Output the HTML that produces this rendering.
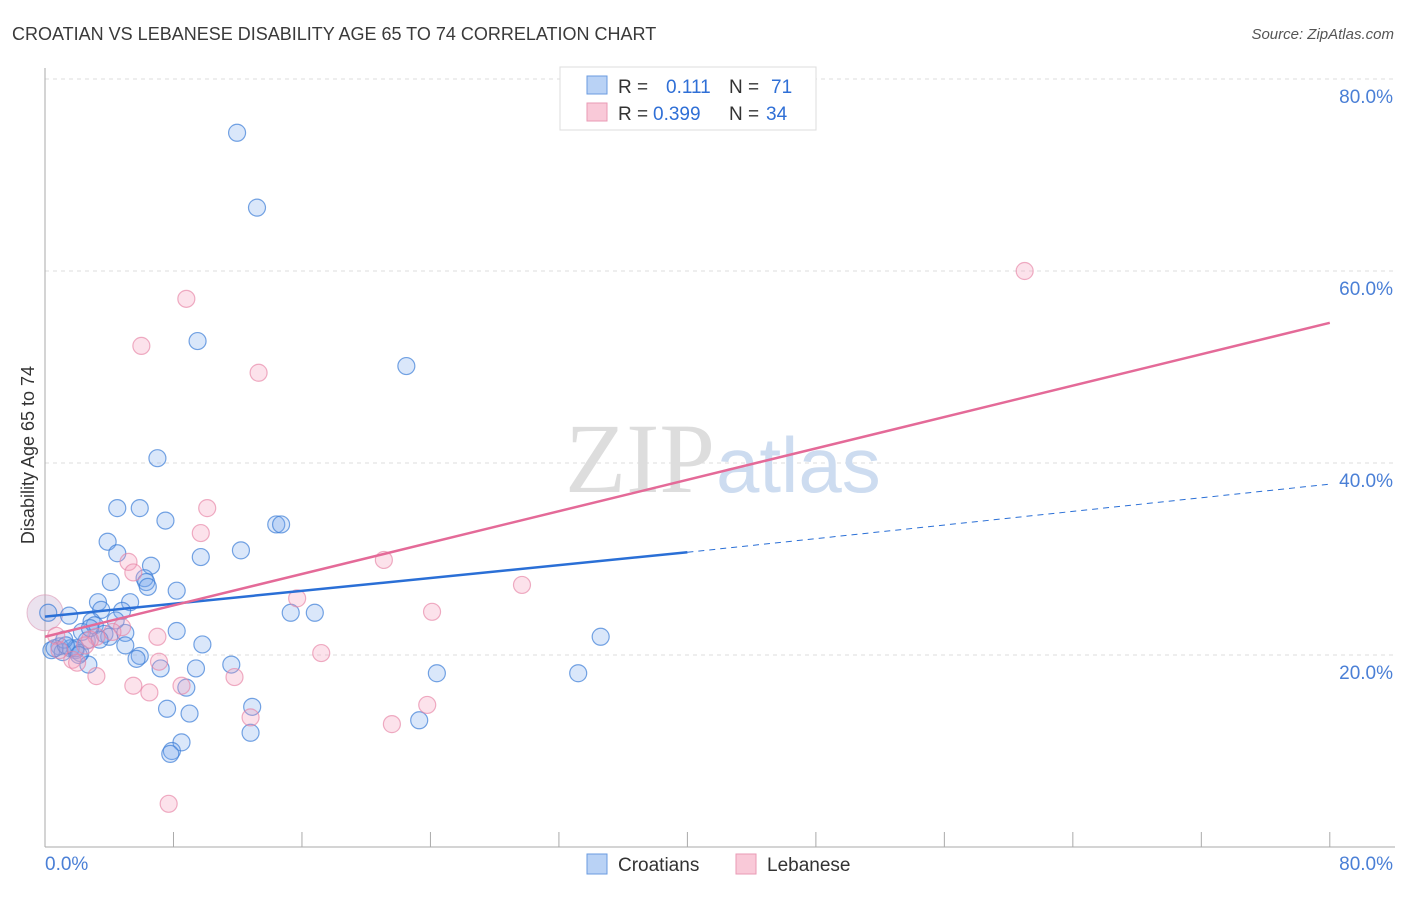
<!DOCTYPE html>
<html><head><meta charset="utf-8"><style>
body{margin:0;background:#fff;font-family:"Liberation Sans",sans-serif}
</style></head><body>
<svg width="1406" height="892" xmlns="http://www.w3.org/2000/svg" font-family="Liberation Sans, sans-serif">
<text x="12" y="40" font-size="18" fill="#3a3a3a">CROATIAN VS LEBANESE DISABILITY AGE 65 TO 74 CORRELATION CHART</text>
<text x="1394" y="39" font-size="15" fill="#555" font-style="italic" text-anchor="end">Source: ZipAtlas.com</text>
<g id="grid"></g>
<text x="715" y="492" font-size="100" fill="#ddd" text-anchor="end" font-family="Liberation Serif, serif">ZIP</text>
<text x="716" y="492" font-size="78" fill="#cddcf0">atlas</text>
<text transform="translate(34,455) rotate(-90)" font-size="18" fill="#333" text-anchor="middle">Disability Age 65 to 74</text>
<g id="pts"></g>
<g id="lines"></g>
<g>
<rect x="560" y="67" width="256" height="63" fill="#fff" stroke="#ddd"/>
<rect x="587" y="76" width="20" height="18" fill="#b9d2f5" stroke="#6a9be0"/>
<rect x="587" y="103" width="20" height="18" fill="#f9c9d8" stroke="#e99ab5"/>
<text y="93" font-size="19" fill="#333"><tspan x="618">R =</tspan><tspan x="666" fill="#2f6fd6">0.111</tspan><tspan x="729">N =</tspan><tspan x="771" fill="#2f6fd6">71</tspan></text>
<text y="120" font-size="19" fill="#333"><tspan x="618">R =</tspan><tspan x="653" fill="#2f6fd6">0.399</tspan><tspan x="729">N =</tspan><tspan x="766" fill="#2f6fd6">34</tspan></text>
</g>
<g>
<rect x="587" y="854" width="20" height="20" fill="#b9d2f5" stroke="#6a9be0"/>
<text x="618" y="871" font-size="19" fill="#333">Croatians</text>
<rect x="736" y="854" width="20" height="20" fill="#f9c9d8" stroke="#e99ab5"/>
<text x="767" y="871" font-size="19" fill="#333">Lebanese</text>
</g>
</svg>
<script>
const yTicks=[20,40,60,80];
const xTickLabels=["0.0%","80.0%"];
const blueX=[11.96,13.2,9.5,22.5,7.0,4.5,5.9,7.5,14.4,14.7,3.9,4.5,12.2,9.7,6.6,6.2,6.3,6.4,4.1,8.2,3.3,5.3,3.5,4.8,1.5,2.9,3.1,15.3,16.8,34.6,8.2,5.0,3.7,4.0,2.6,5.0,9.8,0.9,0.4,1.6,1.1,0.6,1.9,2.2,5.9,5.7,11.6,2.7,7.2,9.4,24.4,33.2,8.8,7.6,9.0,12.9,23.3,12.8,8.5,7.9,7.8,0.2,1.9,1.2,3.4,2.3,4.4,2.8,1.3,2.1];
const blueY=[74.4,66.6,52.7,50.1,40.5,35.3,35.3,34.0,33.6,33.6,31.8,30.6,30.9,30.2,29.3,28.0,27.6,27.1,27.6,26.7,25.5,25.5,24.7,24.6,24.1,23.5,23.1,24.4,24.4,21.9,22.5,22.3,22.2,21.9,21.5,21.0,21.1,20.9,20.5,20.7,20.3,20.7,20.5,20.2,19.9,19.6,19.0,19.0,18.6,18.6,18.1,18.1,16.6,14.4,13.9,14.6,13.2,11.9,10.9,10.0,9.7,24.4,20.7,21.6,21.6,22.4,23.6,22.8,21.0,20.0];
const pinkX=[61.0,8.8,6.0,13.3,10.1,9.7,5.2,21.1,5.5,29.7,15.7,24.1,4.8,4.2,7.0,3.2,17.2,1.7,7.1,2.0,3.2,5.5,6.5,8.5,11.8,12.8,23.8,21.6,7.7,0.7,2.8,0.9,2.5];
const pinkY=[60.0,57.1,52.2,49.4,35.3,32.7,29.7,29.9,28.6,27.3,25.9,24.5,22.9,22.4,21.9,21.9,20.2,19.5,19.3,19.2,17.8,16.8,16.1,16.8,17.7,13.5,14.8,12.8,4.5,22.0,21.6,20.5,21.0];
const blueTrend=[24.0,30.7,37.8];
const pinkTrend=[21.9,54.6];
const NS="http://www.w3.org/2000/svg";
const sx=v=>45+v*16.06, sy=v=>847-v*9.6;
function mk(t,a,p){const e=document.createElementNS(NS,t);for(const k in a)e.setAttribute(k,a[k]);p.appendChild(e);return e;}
const grid=document.getElementById('grid');
yTicks.forEach(t=>{
 const l=mk('line',{x1:45,x2:1395,y1:sy(t),y2:sy(t),stroke:'#ddd','stroke-dasharray':'4,4'},grid);
 
 
 const tx=mk('text',{x:1393,y:sy(t)+24,'font-size':19,fill:'#4a7fd6','text-anchor':'end'},grid);
 tx.textContent=t.toFixed(1)+'%';
 
 
});
mk('line',{x1:45,x2:45,y1:68,y2:847,stroke:'#aaa'},grid);
mk('line',{x1:45,x2:1395,y1:847,y2:847,stroke:'#aaa'},grid);
for(let i=1;i<=10;i++){mk('line',{x1:sx(i*8),x2:sx(i*8),y1:832,y2:847,stroke:'#aaa'},grid);}
[[0,45,'start'],[80,1393,'end']].forEach((d,i)=>{
 const tx=mk('text',{x:d[1],y:870,'font-size':19,fill:'#4a7fd6','text-anchor':d[2]},grid);
 tx.textContent=xTickLabels[i];
 
 
});
const pts=document.getElementById('pts');
const big=mk('circle',{cx:sx(0),cy:sy(24.4),r:18,fill:'rgba(190,160,200,0.3)',stroke:'rgba(220,150,180,0.6)'},pts);


blueX.forEach((x,i)=>{
 const c=mk('circle',{cx:sx(x),cy:sy(blueY[i]),r:8.5,fill:'rgba(120,165,235,0.27)',stroke:'rgba(60,125,215,0.7)','stroke-width':1.2},pts);
 
 
});
pinkX.forEach((x,i)=>{
 const c=mk('circle',{cx:sx(x),cy:sy(pinkY[i]),r:8.5,fill:'rgba(245,160,190,0.3)',stroke:'rgba(230,130,165,0.65)','stroke-width':1.2},pts);
 
 
});
const lines=document.getElementById('lines');
let l1=mk('line',{x1:sx(0),y1:sy(blueTrend[0]),x2:sx(40),y2:sy(blueTrend[1]),stroke:'#2a6fd6','stroke-width':2.5},lines);


let l2=mk('line',{x1:sx(40),y1:sy(blueTrend[1]),x2:sx(80),y2:sy(blueTrend[2]),stroke:'#2a6fd6','stroke-width':1,'stroke-dasharray':'6,5'},lines);


let l3=mk('line',{x1:sx(0),y1:sy(pinkTrend[0]),x2:sx(80),y2:sy(pinkTrend[1]),stroke:'#e46a98','stroke-width':2.5},lines);


</script>
</body></html>
